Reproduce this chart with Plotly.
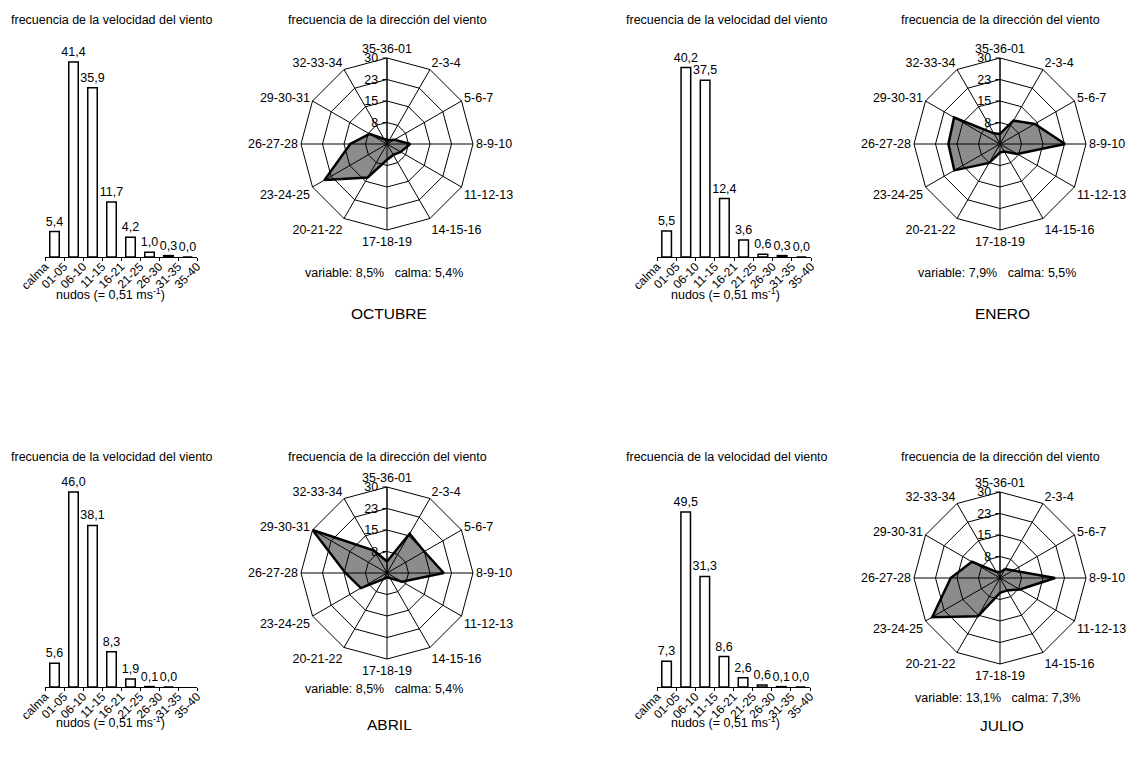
import plotly.graph_objects as go

# ---- data -------------------------------------------------------------
meses = ["OCTUBRE", "ENERO", "ABRIL", "JULIO"]

clases_velocidad = ["calma", "01-05", "06-10", "11-15", "16-21",
                    "21-25", "26-30", "31-35", "35-40"]

vel_octubre = [5.4, 41.4, 35.9, 11.7, 4.2, 1.0, 0.3, 0.0]
vel_enero = [5.5, 40.2, 37.5, 12.4, 3.6, 0.6, 0.3, 0.0]
vel_abril = [5.6, 46.0, 38.1, 8.3, 1.9, 0.1, 0.0]
vel_julio = [7.3, 49.5, 31.3, 8.6, 2.6, 0.6, 0.1, 0.0]

direcciones = ["35-36-01", "2-3-4", "5-6-7", "8-9-10", "11-12-13", "14-15-16",
               "17-18-19", "20-21-22", "23-24-25", "26-27-28", "29-30-31", "32-33-34"]

dir_octubre = [1.5, 1.5, 3.0, 8.1, 5.5, 4.4, 5.5, 13.5, 25.2, 12.8, 7.0, 2.0]
dir_enero = [3.5, 9.4, 14.0, 22.7, 7.0, 3.0, 3.0, 7.6, 18.4, 18.0, 18.5, 4.3]
dir_abril = [4.0, 15.8, 15.0, 19.8, 6.0, 2.0, 1.5, 2.5, 10.5, 14.5, 30.0, 9.0]
dir_julio = [2.0, 3.6, 5.3, 19.2, 8.0, 5.0, 5.2, 15.4, 27.3, 17.2, 11.3, 2.5]

variable_pct = [8.5, 7.9, 8.5, 13.1]
calma_pct = [5.4, 5.5, 5.4, 7.3]

escala_vel = [45, 45, 50, 60]          # top of each speed axis
anillos = [7.5, 15, 22.5, 30]          # direction rings
anillos_txt = ["8", "15", "23", "30"]

# ---- layout helpers (pixel -> paper) ----------------------------------
W, H = 1131, 758
FONT = "Liberation Sans, Arial, sans-serif"


def fx(x):
    return x / W


def fy(y):
    return 1 - y / H


def coma(v):
    return f"{v:.1f}".replace(".", ",")


velocidades = [vel_octubre, vel_enero, vel_abril, vel_julio]
frecuencias = [dir_octubre, dir_enero, dir_abril, dir_julio]

# panel placement in pixels (x from left, y from top)
bar_x0 = [45, 657, 45, 657]
bar_x1 = [197, 811, 197, 810]
bar_title_x = [112, 727, 112, 727]
title_y = [20, 20, 457, 457]
bar_top = [45, 45, 475, 475]
bar_base = [257, 257, 687, 687]
nudos_y = [294, 294, 722, 722]
rose_cx = [387, 1000, 387, 1000]
rose_cy = [144, 144, 573, 578]
var_y = [273, 273, 689, 698]
mes_y = [313, 313, 724, 725]
R = 86

fig = go.Figure()
annotations = []
layout_axes = {}

for i in range(4):
    vals = velocidades[i]
    n = i + 1
    xa = "x" if n == 1 else f"x{n}"
    ya = "y" if n == 1 else f"y{n}"

    fig.add_trace(go.Bar(
        x=list(range(len(vals))), y=vals,
        width=0.5,
        marker=dict(color="white", line=dict(color="black", width=1.5)),
        text=[coma(v) for v in vals], textposition="outside",
        constraintext="none", cliponaxis=False,
        textfont=dict(family=FONT, size=12.5, color="black"),
        xaxis=xa, yaxis=ya, showlegend=False, hoverinfo="skip",
    ))

    layout_axes[f"xaxis{'' if n == 1 else n}"] = dict(
        domain=[fx(bar_x0[i]), fx(bar_x1[i])],
        anchor=ya, range=[-0.5, 7.5],
        tickmode="array",
        tickvals=[k - 0.5 for k in range(len(clases_velocidad))],
        ticktext=clases_velocidad,
        tickangle=-45, ticks="outside", ticklen=3, tickcolor="black",
        ticklabelstandoff=-6,
        showline=True, linecolor="black", linewidth=1,
        showgrid=False, zeroline=False, automargin=False,
        tickfont=dict(family=FONT, size=12, color="black"),
    )
    layout_axes[f"yaxis{'' if n == 1 else n}"] = dict(
        domain=[fy(bar_base[i]), fy(bar_top[i])],
        anchor=xa, range=[0, escala_vel[i]],
        visible=False,
    )

    # direction rose
    pid = "polar" if n == 1 else f"polar{n}"
    r_vals = frecuencias[i] + frecuencias[i][:1]
    t_vals = direcciones + direcciones[:1]
    fig.add_trace(go.Scatterpolar(
        r=r_vals, theta=t_vals, mode="lines",
        fill="toself", fillcolor="rgba(0,0,0,0.45)",
        line=dict(color="black", width=2.5),
        subplot=pid, showlegend=False, hoverinfo="skip",
    ))
    cx, cy = rose_cx[i], rose_cy[i]
    layout_axes[pid] = dict(
        domain=dict(x=[fx(cx - R), fx(cx + R)], y=[fy(cy + R), fy(cy - R)]),
        bgcolor="white",
        gridshape="linear",
        angularaxis=dict(
            type="category", categoryorder="array", categoryarray=direcciones,
            direction="clockwise", rotation=90,
            showline=True, linecolor="black", linewidth=1,
            showgrid=True, gridcolor="black", gridwidth=1,
            ticks="", tickfont=dict(family=FONT, size=12.5, color="black"),
        ),
        radialaxis=dict(
            range=[0, 30], angle=90, side="counterclockwise",
            tickmode="array", tickvals=anillos, ticktext=anillos_txt,
            tickangle=90,
            showline=True, linecolor="black", linewidth=1,
            showgrid=True, gridcolor="black", gridwidth=1,
            ticks="outside", ticklen=4, tickcolor="black",
            tickfont=dict(family=FONT, size=12.5, color="black"),
        ),
    )

    # texts
    annotations += [
        dict(x=fx(bar_title_x[i]), y=fy(title_y[i]),
             text="frecuencia de la velocidad del viento", font=dict(size=12.5)),
        dict(x=fx(bar_title_x[i] - 2), y=fy(nudos_y[i]),
             text="nudos (= 0,51 ms<sup>-1</sup>)", font=dict(size=12.5)),
        dict(x=fx(cx), y=fy(title_y[i]),
             text="frecuencia de la dirección del viento", font=dict(size=12.5)),
        dict(x=fx(cx - 3), y=fy(var_y[i]),
             text=f"variable: {coma(variable_pct[i])}%&nbsp;&nbsp;&nbsp;calma: {coma(calma_pct[i])}%",
             font=dict(size=12.5)),
        dict(x=fx(cx + 2), y=fy(mes_y[i]), text=meses[i], font=dict(size=15.5)),
    ]

for a in annotations:
    a.update(xref="paper", yref="paper", showarrow=False,
             xanchor="center", yanchor="middle")
    a["font"].update(family=FONT, color="black")

fig.update_layout(
    width=W, height=H,
    margin=dict(l=0, r=0, t=0, b=0, pad=0, autoexpand=False),
    paper_bgcolor="white", plot_bgcolor="white",
    font=dict(family=FONT, color="black"),
    annotations=annotations,
    **layout_axes,
)

fig.write_html("out.html")
